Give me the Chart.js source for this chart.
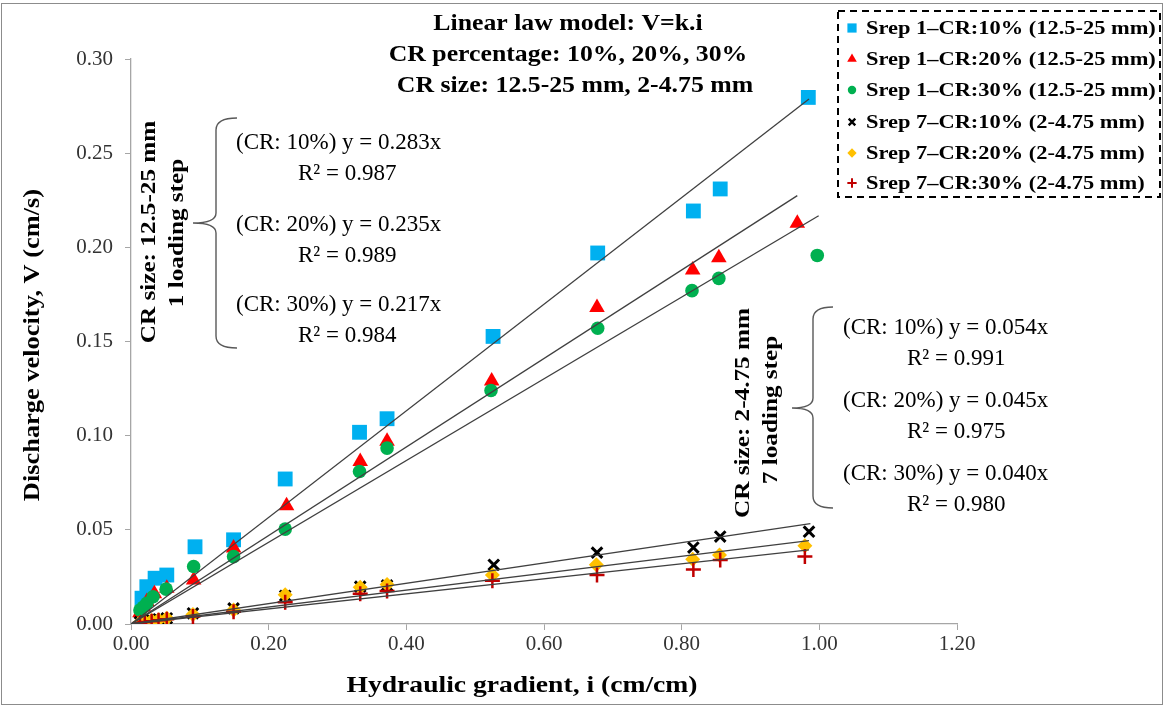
<!DOCTYPE html>
<html>
<head>
<meta charset="utf-8">
<script src="https://cdn.jsdelivr.net/npm/chart.js@4.4.1/dist/chart.umd.min.js"></script>
<style>
html, body { margin: 0; padding: 0; background: #fff; }
#wrap { width: 1165px; height: 707px; position: relative; }
</style>
</head>
<body>
<div id="wrap"><canvas id="chart" width="1165" height="707"></canvas></div>
<script>
// ===== data =====
const seriesNames = [
    'Srep 1\u2013CR:10% (12.5-25 mm)',
    'Srep 1\u2013CR:20% (12.5-25 mm)',
    'Srep 1\u2013CR:30% (12.5-25 mm)',
    'Srep 7\u2013CR:10% (2-4.75 mm)',
    'Srep 7\u2013CR:20% (2-4.75 mm)',
    'Srep 7\u2013CR:30% (2-4.75 mm)'
];

// hydraulic gradient i (cm/cm)
const gradS1_10 = [0.016, 0.023, 0.035, 0.052, 0.093, 0.149, 0.224, 0.332, 0.372, 0.526, 0.678, 0.817, 0.856, 0.984];
const gradS1_20 = [0.013, 0.018, 0.023, 0.034, 0.052, 0.091, 0.149, 0.226, 0.333, 0.372, 0.524, 0.677, 0.816, 0.854, 0.968];
const gradS1_30 = [0.013, 0.018, 0.023, 0.032, 0.051, 0.091, 0.149, 0.224, 0.332, 0.372, 0.523, 0.678, 0.815, 0.854, 0.997];
const gradS7_10 = [0.013, 0.020, 0.030, 0.040, 0.052, 0.090, 0.149, 0.224, 0.333, 0.372, 0.527, 0.677, 0.817, 0.856, 0.985];
const gradS7_20 = [0.013, 0.020, 0.030, 0.040, 0.052, 0.090, 0.149, 0.224, 0.333, 0.372, 0.525, 0.676, 0.816, 0.855, 0.979];
const gradS7_30 = [0.013, 0.020, 0.030, 0.040, 0.052, 0.090, 0.149, 0.224, 0.333, 0.372, 0.525, 0.677, 0.817, 0.856, 0.979];

// discharge velocity V (cm/s)
const velS1_10 = [0.0137, 0.0198, 0.0243, 0.0260, 0.0410, 0.0447, 0.0770, 0.1018, 0.1090, 0.1527, 0.1970, 0.2193, 0.2310, 0.2796];
const velS1_20 = [0.0060, 0.0090, 0.0120, 0.0160, 0.0190, 0.0234, 0.0403, 0.0628, 0.0863, 0.0970, 0.1290, 0.1680, 0.1880, 0.1945, 0.2128];
const velS1_30 = [0.0074, 0.0090, 0.0110, 0.0145, 0.0185, 0.0305, 0.0358, 0.0504, 0.0810, 0.0934, 0.1240, 0.1570, 0.1770, 0.1835, 0.1957];
const velS7_10 = [0.0010, 0.0015, 0.0020, 0.0025, 0.0030, 0.0057, 0.0083, 0.0150, 0.0198, 0.0205, 0.0314, 0.0379, 0.0406, 0.0464, 0.0490];
const velS7_20 = [0.0008, 0.0012, 0.0018, 0.0022, 0.0030, 0.0050, 0.0075, 0.0155, 0.0195, 0.0210, 0.0260, 0.0314, 0.0344, 0.0367, 0.0415];
const velS7_30 = [0.0005, 0.0010, 0.0015, 0.0020, 0.0025, 0.0040, 0.0065, 0.0115, 0.0160, 0.0175, 0.0230, 0.0260, 0.0290, 0.0340, 0.0358];

// linear trendlines V = k.i (through origin)
const slopes = [0.283, 0.235, 0.217, 0.054, 0.045, 0.040];
const trendEnd = [0.985, 0.968, 0.999, 0.987, 0.985, 0.985];
const r2 = ['0.987', '0.989', '0.984', '0.991', '0.975', '0.980'];
const crLabels = ['10%', '20%', '30%', '10%', '20%', '30%'];

const xTicks = [0, 0.2, 0.4, 0.6, 0.8, 1.0, 1.2];
const yTicks = [0, 0.05, 0.10, 0.15, 0.20, 0.25, 0.30];

// ===== styles =====
const SERIF = "'Liberation Serif', 'Times New Roman', serif";
const markers = [
    { style: 'rect', color: '#00B0F0', border: '#00B0F0', radius: 10.5, bw: 0 },
    { style: 'triangle', color: '#FF0000', border: '#FF0000', radius: 9, bw: 0 },
    { style: 'circle', color: '#00B050', border: '#00B050', radius: 6.8, bw: 0 },
    { style: 'crossRot', color: '#000000', border: '#000000', radius: 7.5, bw: 3 },
    { style: 'rectRot', color: '#FFC000', border: '#FFC000', radius: 7.5, bw: 0 },
    { style: 'cross', color: '#C00000', border: '#C00000', radius: 7.5, bw: 2.5 }
];

const grads = [gradS1_10, gradS1_20, gradS1_30, gradS7_10, gradS7_20, gradS7_30];
const vels = [velS1_10, velS1_20, velS1_30, velS7_10, velS7_20, velS7_30];

const datasets = [];
grads.forEach((g, i) => {
    const m = markers[i];
    datasets.push({
        label: seriesNames[i],
        data: g.map((x, j) => ({ x: x, y: vels[i][j] })),
        pointStyle: m.style,
        pointRadius: m.radius,
        pointBackgroundColor: m.color,
        pointBorderColor: m.border,
        pointBorderWidth: m.bw,
        showLine: false,
        order: 20 - i
    });
});
slopes.forEach((k, i) => {
    datasets.push({
        label: 'trend ' + i,
        type: 'line',
        data: [{ x: 0, y: 0 }, { x: trendEnd[i], y: k * trendEnd[i] }],
        borderColor: '#404040',
        borderWidth: 1.3,
        pointRadius: 0,
        fill: false,
        order: 1
    });
});

// ===== annotation helpers =====
// sx stretches the text along its own direction
function txt(ctx, s, x, y, font, align, rot, sx) {
    ctx.save();
    ctx.translate(x, y);
    ctx.rotate(rot || 0);
    ctx.scale(sx || 1, 1);
    ctx.font = font;
    ctx.textAlign = align || 'left';
    ctx.textBaseline = 'middle';
    ctx.fillStyle = '#000';
    ctx.fillText(s, 0, 0);
    ctx.restore();
}

function brace(ctx, xEnd, xv, xTip, top, mid, bot) {
    ctx.save();
    ctx.strokeStyle = '#595959';
    ctx.lineWidth = 1.4;
    ctx.beginPath();
    ctx.moveTo(xEnd, top);
    ctx.quadraticCurveTo(xv, top, xv, top + 12);
    ctx.lineTo(xv, mid - 10);
    ctx.quadraticCurveTo(xv, mid, xTip, mid);
    ctx.quadraticCurveTo(xv, mid, xv, mid + 10);
    ctx.lineTo(xv, bot - 12);
    ctx.quadraticCurveTo(xv, bot, xEnd, bot);
    ctx.stroke();
    ctx.restore();
}

const annotations = {
    id: 'annotations',
    afterDraw(chart) {
        const ctx = chart.ctx;

        // outer frame
        ctx.save();
        ctx.strokeStyle = '#8c8c8c';
        ctx.lineWidth = 1;
        ctx.strokeRect(1.5, 3.5, 1161, 701);
        ctx.restore();

        // header
        const hFont = 'bold 23px ' + SERIF;
        txt(ctx, 'Linear law model: V=k.i', 568, 24, hFont, 'center', 0, 1.12);
        txt(ctx, 'CR percentage: 10%, 20%, 30%', 568, 55, hFont, 'center', 0, 1.12);
        txt(ctx, 'CR size: 12.5-25 mm, 2-4.75 mm', 575, 86, hFont, 'center', 0, 1.12);

        // axis titles
        txt(ctx, 'Hydraulic gradient, i (cm/cm)', 522, 686, 'bold 24px ' + SERIF, 'center', 0, 1.15);
        txt(ctx, 'Discharge velocity, V (cm/s)', 33, 345, 'bold 24px ' + SERIF, 'center', -Math.PI / 2, 1.1);

        // legend
        ctx.save();
        ctx.setLineDash([7, 5]);
        ctx.lineWidth = 2;
        ctx.strokeStyle = '#000';
        ctx.strokeRect(838, 11, 322, 186);
        ctx.restore();
        const rows = [28, 59, 90, 122, 153, 183];
        seriesNames.forEach((name, i) => {
            const m = markers[i];
            ctx.save();
            ctx.fillStyle = m.color;
            ctx.strokeStyle = m.border;
            ctx.lineWidth = m.bw * 0.8;
            Chart.helpers.drawPoint(ctx, { pointStyle: m.style, rotation: 0, radius: m.radius * 0.62, borderWidth: m.bw * 0.8 }, 852, rows[i]);
            ctx.restore();
            txt(ctx, name, 866, rows[i] + 1, 'bold 19.5px ' + SERIF, 'left', 0, 1.15);
        });

        // left group: Srep 1
        const gFont = 'bold 21px ' + SERIF;
        txt(ctx, 'CR size: 12.5-25 mm', 150, 232, gFont, 'center', -Math.PI / 2, 1.2);
        txt(ctx, '1 loading step', 178, 233, gFont, 'center', -Math.PI / 2, 1.2);
        brace(ctx, 237, 216, 193, 118, 223, 348);
        const eFont = '23px ' + SERIF;
        const leftRows = [143, 225, 305];
        for (let i = 0; i < 3; i++) {
            txt(ctx, '(CR: ' + crLabels[i] + ') y = ' + slopes[i].toFixed(3) + 'x', 236, leftRows[i], eFont, 'left');
            txt(ctx, 'R\u00B2 = ' + r2[i], 298, leftRows[i] + 31, eFont, 'left');
        }

        // right group: Srep 7
        txt(ctx, 'CR size: 2-4.75 mm', 744, 413, gFont, 'center', -Math.PI / 2, 1.2);
        txt(ctx, '7 loading step', 772, 410, gFont, 'center', -Math.PI / 2, 1.2);
        brace(ctx, 833, 813, 792, 307, 408, 508);
        const rightRows = [328, 401, 474];
        for (let i = 3; i < 6; i++) {
            txt(ctx, '(CR: ' + crLabels[i] + ') y = ' + slopes[i].toFixed(3) + 'x', 843, rightRows[i - 3], eFont, 'left');
            txt(ctx, 'R\u00B2 = ' + r2[i], 907, rightRows[i - 3] + 31, eFont, 'left');
        }
    }
};

const axisColor = '#a6a6a6';
new Chart(document.getElementById('chart'), {
    type: 'scatter',
    data: { datasets: datasets },
    options: {
        responsive: false,
        animation: false,
        layout: { padding: { left: 0, right: 208, top: 59, bottom: 0 } },
        plugins: { legend: { display: false }, tooltip: { enabled: false } },
        scales: {
            x: {
                type: 'linear',
                min: xTicks[0],
                max: xTicks[xTicks.length - 1],
                afterBuildTicks: s => { s.ticks = xTicks.map(v => ({ value: v })); },
                afterFit: s => { s.height = 83; },
                ticks: {
                    callback: v => Number(v).toFixed(2),
                    font: { family: SERIF, size: 21 },
                    color: '#333',
                    padding: 2,
                    maxRotation: 0
                },
                grid: { drawOnChartArea: false, color: axisColor, tickLength: 6 },
                border: { color: axisColor, width: 1.3 }
            },
            y: {
                type: 'linear',
                min: yTicks[0],
                max: yTicks[yTicks.length - 1],
                afterBuildTicks: s => { s.ticks = yTicks.map(v => ({ value: v })); },
                afterFit: s => { s.width = 131; },
                ticks: {
                    callback: v => Number(v).toFixed(2),
                    font: { family: SERIF, size: 21 },
                    color: '#333',
                    padding: 12
                },
                grid: { drawOnChartArea: false, color: axisColor, tickLength: 6 },
                border: { color: axisColor, width: 1.3 }
            }
        }
    },
    plugins: [annotations]
});
</script>
</body>
</html>
